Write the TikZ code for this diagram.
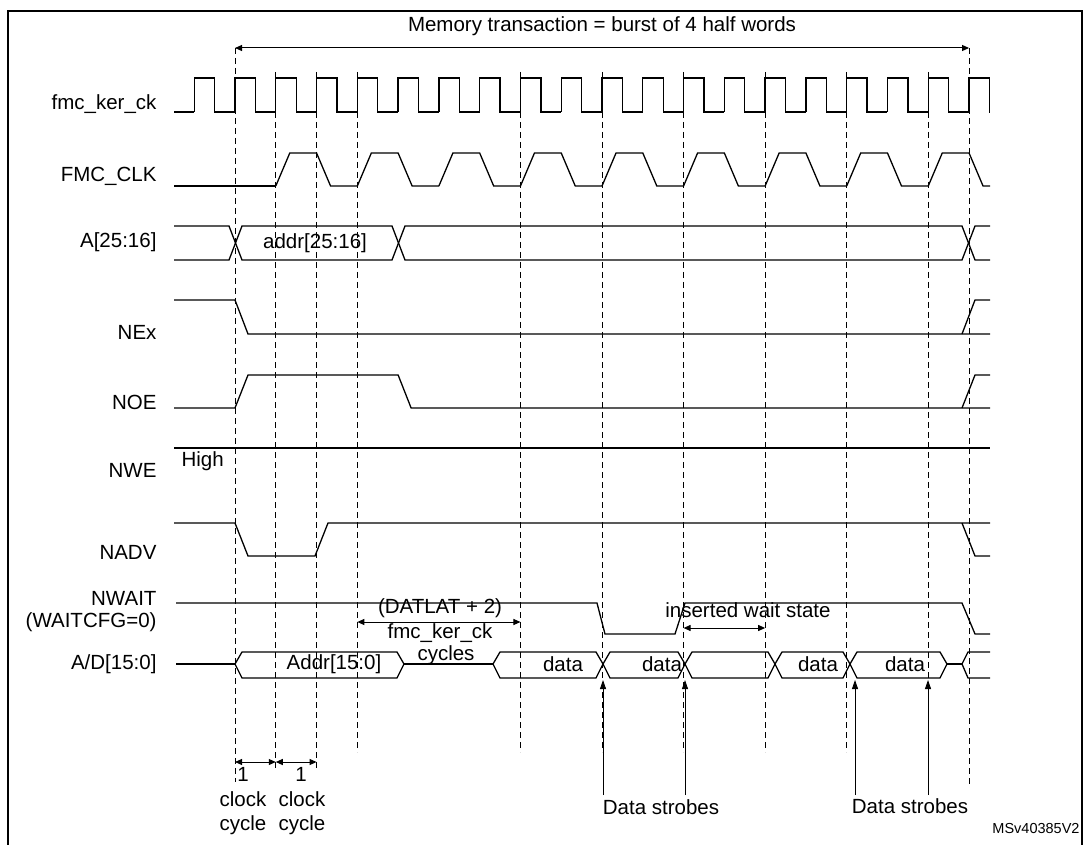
\documentclass[tikz,border=0pt]{standalone}
\usepackage{fontspec}
\setmainfont{Liberation Sans}
\usetikzlibrary{arrows.meta}
\newcommand\XX[1]{235+(#1)*40.78}
\begin{document}
\begin{tikzpicture}[x=1pt,y=-1pt,
  wave/.style={line width=1.3pt},
  dsh/.style={line width=0.6pt,dash pattern=on 6pt off 4pt},
  lab/.style={anchor=east,font=\fontsize{20.5}{22}\selectfont},
  txt/.style={font=\fontsize{20.5}{24}\selectfont,align=center},
  dim/.style={line width=1pt,{Triangle[length=7pt,width=6pt]}-{Triangle[length=7pt,width=6pt]}},
  up/.style={line width=0.8pt,-{Triangle[length=9pt,width=6pt]}}]
\useasboundingbox (0,0) rectangle (1085,845);
\fill[white] (0,0) rectangle (1085,845);
\draw[line width=1.6pt] (8,845) -- (8,11) -- (1082,11) -- (1082,845);
% dashed guides
\foreach \k/\s/\e in {0/48/782,1/72/770,2/72/770,3/72/752,7/72/752,9/72/752,11/72/752,13/72/752,15/72/752,17/72/752,18/48/785}
  \draw[dsh] ({\XX{\k}},\s) -- ({\XX{\k}},\e);
% title
\draw[dim] ({\XX{0}},48) -- ({\XX{18}},48);
\node[txt] (title) at (602,26) {Memory transaction = burst of 4 half words};
% labels
\node[lab] (l1) at (160,104) {fmc\_ker\_ck};
\node[lab] (l2) at (160,176) {FMC\_CLK};
\node[lab] (l3) at (160,242) {A[25:16]};
\node[lab] (l4) at (160,332) {NEx};
\node[lab] (l5) at (160,402) {NOE};
\node[lab] (l6) at (160,470) {NWE};
\node[lab] (l7) at (160,552) {NADV};
\node[lab] (l8) at (160,598) {NWAIT};
\node[lab] (l9) at (160,622) {(WAITCFG=0)};
\node[lab] (l10) at (160,664) {A/D[15:0]};
% fmc_ker_ck
\draw[wave] (174,112) -- ({\XX{-1}},112);
\foreach \k in {-1,...,18}
  \draw[wave] ({\XX{\k}},112) -- ({\XX{\k}},78) -- ({\XX{\k}+20.39},78) -- ({\XX{\k}+20.39},112) -- ({min(\XX{\k}+40.78,990)},112);
% FMC_CLK
\draw[wave] (174,186) -- ({\XX{1}},186);
\foreach \m in {0,...,8}
  \draw[wave] ({\XX{1+2*\m}},186) -- ({\XX{1+2*\m}+14},153) -- ({\XX{2+2*\m}},153) -- ({\XX{2+2*\m}+14},186) -- ({min(\XX{3+2*\m},990)},186);
% A[25:16]
\draw[wave] (174,226) -- (229,226) -- (242,260) -- (392,260) -- (405,226) -- (962,226) -- (975,260) -- (990,260);
\draw[wave] (174,260) -- (229,260) -- (242,226) -- (392,226) -- (405,260) -- (962,260) -- (975,226) -- (990,226);
\node[txt] (a1) at (315,243) {addr[25:16]};
% NEx
\draw[wave] (174,300) -- (235,300) -- (248,334) -- (990,334);
\draw[wave] (962,334) -- (975,300) -- (990,300);
% NOE
\draw[wave] (174,408) -- (235,408) -- (248,375) -- ({\XX{4}},375) -- ({\XX{4}+13},408) -- (990,408);
\draw[wave] (962,408) -- (975,375) -- (990,375);
% NWE
\draw[wave] (174,448) -- (990,448);
\node[txt,anchor=west] (high) at (178,461) {High};
% NADV
\draw[wave] (174,523) -- (235,523) -- (248,556) -- (315,556) -- (328,523) -- (990,523);
\draw[wave] (962,523) -- (975,556) -- (990,556);
% NWAIT
\draw[wave] (176,603) -- (597,603) -- (605,634) -- (675,634) -- (685,603) -- (962,603) -- (975,634) -- (990,634);
% A/D bus
\draw[wave] (176,664) -- (235,664);
\draw[wave] (404,664) -- (493,664);
\draw[wave] (947,664) -- (962,664);
\draw[wave] (235,664) -- (242,652) -- (397,652) -- (404,664) -- (397,678) -- (242,678) -- cycle;
\draw[wave] (493,664) -- (500,652) -- (596,652) -- (603,664) -- (596,678) -- (500,678) -- cycle;
\draw[wave] (603,664) -- (610,652) -- (678,652) -- (685,664) -- (678,678) -- (610,678) -- cycle;
\draw[wave] (685,664) -- (692,652) -- (768,652) -- (775,664) -- (768,678) -- (692,678) -- cycle;
\draw[wave] (775,664) -- (782,652) -- (843,652) -- (850,664) -- (843,678) -- (782,678) -- cycle;
\draw[wave] (850,664) -- (857,652) -- (940,652) -- (947,664) -- (940,678) -- (857,678) -- cycle;
\draw[wave] (962,664) -- (968,652) -- (990,652);
\draw[wave] (962,664) -- (968,678) -- (990,678);
\node[txt] (ad1) at (334,664) {Addr[15:0]};
\node[txt] (d1) at (563,664) {data};
\node[txt] (d2) at (662,664) {data};
\node[txt] (d3) at (818,664) {data};
\node[txt] (d4) at (905,664) {data};
% DATLAT
\draw[dim] ({\XX{3}},622) -- ({\XX{7}},622);
\node[txt] (dl1) at (440,608) {(DATLAT + 2)};
\node[txt] (dl2) at (440,633) {fmc\_ker\_ck};
\node[txt] (dl3) at (446,655) {cycles};
% wait state
\draw[dim] ({\XX{11}},628) -- ({\XX{13}},628);
\node[txt] (ws) at (748,610) {inserted wait state};
% clock cycle
\draw[dim] ({\XX{0}},762) -- ({\XX{1}},762);
\draw[dim] ({\XX{1}},762) -- ({\XX{2}},762);
\node[txt] (o1) at (243,774) {1};
\node[txt] (o2) at (301,774) {1};
\node[txt] (c1) at (243,813) {clock\\cycle};
\node[txt] (c2) at (302,813) {clock\\cycle};
% strobes
\coordinate (s1) at (603,795); \coordinate (s2) at (685,795);
\coordinate (s3) at (855,795); \coordinate (s4) at (928,795);
\draw[up] (s1) -- (603,680);
\draw[up] (s2) -- (685,680);
\draw[up] (s3) -- (855,680);
\draw[up] (s4) -- (928,680);
\node[txt,fill=white,inner sep=1pt] (ds1) at (661,807) {Data strobes};
\node[txt,fill=white,inner sep=1pt] (ds2) at (910,806) {Data strobes};
\node[font=\fontsize{14.5}{16}\selectfont] (ms) at (1036,829) {MSv40385V2};
\end{tikzpicture}
\end{document}
